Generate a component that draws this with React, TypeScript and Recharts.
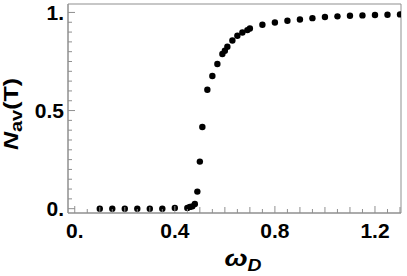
import { ReferenceArea, Scatter, ScatterChart, XAxis, YAxis } from "recharts";

// driving frequency and averaged occupation
const omegaD = [
    0.1, 0.15, 0.2, 0.25, 0.3, 0.35, 0.4, 0.45, 0.46, 0.47, 0.48, 0.49, 0.5, 0.51, 0.53, 0.55, 0.57,
    0.59, 0.6, 0.61, 0.63, 0.65, 0.67, 0.69, 0.7, 0.75, 0.8, 0.85, 0.9, 0.95, 1.0, 1.05, 1.1, 1.15,
    1.2, 1.25, 1.3,
];
const nAv = [
    0.0, 0.0, 0.0, 0.0, 0.0, 0.0, 0.004, 0.004, 0.009, 0.012, 0.024, 0.087, 0.24, 0.416, 0.606, 0.676,
    0.737, 0.788, 0.805, 0.825, 0.857, 0.881, 0.898, 0.91, 0.918, 0.937, 0.949, 0.958, 0.964, 0.971,
    0.977, 0.98, 0.983, 0.985, 0.987, 0.988, 0.99,
];

const xMajorTicks = [0, 0.4, 0.8, 1.2];
const xTickLabels = ["0.", "0.4", "0.8", "1.2"];
const yMajorTicks = [0, 0.5, 1];
const yTickLabels = ["0.", "0.5", "1."];

const X_DOMAIN: [number, number] = [-0.027, 1.304];
const Y_DOMAIN: [number, number] = [-0.022, 1.043];
const FRAME = "#8f8f8f";
const FONT = "'Liberation Sans', Arial, sans-serif";

const xTicks = Array.from({ length: 27 }, (_, i) => Math.round(i * 5) / 100);
const yTicks = Array.from({ length: 21 }, (_, i) => Math.round(i * 5) / 100);

const data = omegaD.map((x, i) => ({ x, y: nAv[i] }));

const near = (a: number, b: number) => Math.abs(a - b) < 1e-6;

function XTick({ x, y, payload }: any) {
    const v = payload.value;
    const mi = xMajorTicks.findIndex((t) => near(t, v));
    const tenth = near(v * 10, Math.round(v * 10));
    const len = mi >= 0 ? 7 : tenth ? 6 : 4;
    return (
        <g>
            <line x1={x} x2={x} y1={y} y2={y - len} stroke={FRAME} />
            {mi >= 0 && (
                <text x={x} y={y + 24.5} textAnchor="middle" fontFamily={FONT} fontWeight="bold" fontSize={21} fill="#000">
                    {xTickLabels[mi]}
                </text>
            )}
        </g>
    );
}

function YTick({ x, y, payload }: any) {
    const v = payload.value;
    const mi = yMajorTicks.findIndex((t) => near(t, v));
    const len = mi >= 0 ? 7 : 4;
    return (
        <g>
            <line x1={x} x2={x + len} y1={y} y2={y} stroke={FRAME} />
            {mi >= 0 && (
                <text x={x - 4} y={y + 7.5} textAnchor="end" fontFamily={FONT} fontWeight="bold" fontSize={21} fill="#000">
                    {yTickLabels[mi]}
                </text>
            )}
        </g>
    );
}

function Dot({ cx, cy }: any) {
    return <circle cx={cx} cy={cy} r={3.2} fill="#000" />;
}

export default function App() {
    return (
        <div style={{ position: "absolute", left: 0, top: 0, background: "#fff" }}>
            <ScatterChart width={407} height={276} margin={{ top: 4, right: 6, left: 0, bottom: 0 }}>
                <ReferenceArea
                    x1={X_DOMAIN[0]}
                    x2={X_DOMAIN[1]}
                    y1={Y_DOMAIN[0]}
                    y2={Y_DOMAIN[1]}
                    fill="none"
                    stroke={FRAME}
                    strokeWidth={1}
                />
                <XAxis
                    type="number"
                    dataKey="x"
                    domain={X_DOMAIN}
                    allowDataOverflow
                    ticks={xTicks}
                    interval={0}
                    height={63}
                    tickSize={0}
                    tickMargin={0}
                    tickLine={false}
                    axisLine={{ stroke: FRAME }}
                    tick={<XTick />}
                    label={{
                        content: () => (
                            <text
                                x={243}
                                y={266}
                                textAnchor="middle"
                                fontFamily={FONT}
                                fontWeight="bold"
                                fill="#000"
                                textLength={37}
                                lengthAdjust="spacingAndGlyphs"
                            >
                                <tspan fontStyle="italic" fontSize={23}>ω</tspan>
                                <tspan fontStyle="italic" fontSize={16} dy={5}>D</tspan>
                            </text>
                        ),
                    }}
                />
                <YAxis
                    type="number"
                    dataKey="y"
                    domain={Y_DOMAIN}
                    allowDataOverflow
                    ticks={yTicks}
                    interval={0}
                    width={68}
                    tickSize={0}
                    tickMargin={0}
                    tickLine={false}
                    axisLine={{ stroke: FRAME }}
                    tick={<YTick />}
                    label={{
                        content: () => (
                            <text
                                transform="translate(18,114) rotate(-90)"
                                textAnchor="middle"
                                fontFamily={FONT}
                                fontWeight="bold"
                                fill="#000"
                                fontSize={20}
                                textLength={72}
                                lengthAdjust="spacingAndGlyphs"
                            >
                                <tspan fontStyle="italic">N</tspan>
                                <tspan fontSize={16} dy={4}>av</tspan>
                                <tspan dy={-4}>(T)</tspan>
                            </text>
                        ),
                    }}
                />
                <Scatter data={data} shape={<Dot />} isAnimationActive={false} />
            </ScatterChart>
        </div>
    );
}
